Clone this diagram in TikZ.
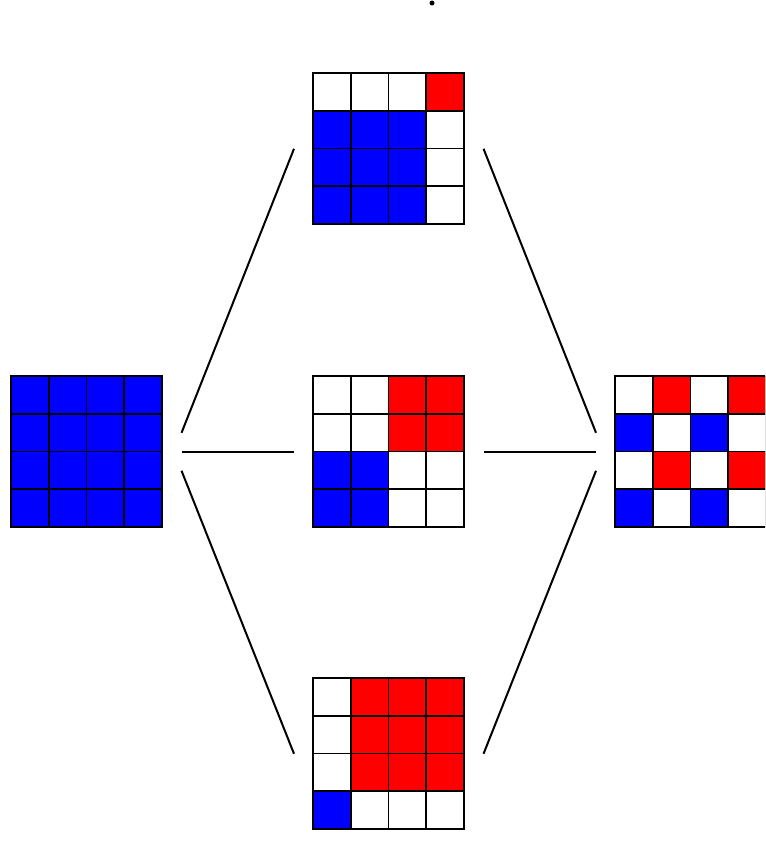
\documentclass[tikz,border=0pt]{standalone}
\usepackage{tikz}
\definecolor{sqblue}{HTML}{0000FF}
\definecolor{sqred}{HTML}{FF0000}
\definecolor{sqwhite}{HTML}{FFFFFF}
% one 4x4 board: name, left, top, 16 colours row by row
\newcommand{\board}[4]{%
  \node[inner sep=0pt,minimum size=113.25pt,anchor=north west] (#1) at (#2,#3) {};
  \foreach \c [count=\i from 0] in {#4}{%
    \pgfmathtruncatemacro\cx{mod(\i,4)}\pgfmathtruncatemacro\cy{\i/4}%
    \filldraw[fill=\c,draw=black,line width=1.3pt]({#2+\cx*37.75},{#3+\cy*37.75})rectangle++(37.75,37.75);}
}

\begin{document}
\begin{tikzpicture}[x=0.75pt,y=-0.75pt,link/.style={black,line width=1.5pt}]
  \clip(0,0)rectangle(765,842);
  \fill[black](432,3)circle(2.5);
  \board{L}{11}{376}{sqblue,sqblue,sqblue,sqblue,sqblue,sqblue,sqblue,sqblue,sqblue,sqblue,sqblue,sqblue,sqblue,sqblue,sqblue,sqblue}
  \board{T}{313}{73}{sqwhite,sqwhite,sqwhite,sqred,sqblue,sqblue,sqblue,sqwhite,sqblue,sqblue,sqblue,sqwhite,sqblue,sqblue,sqblue,sqwhite}
  \board{M}{313}{376}{sqwhite,sqwhite,sqred,sqred,sqwhite,sqwhite,sqred,sqred,sqblue,sqblue,sqwhite,sqwhite,sqblue,sqblue,sqwhite,sqwhite}
  \board{B}{313}{678}{sqwhite,sqred,sqred,sqred,sqwhite,sqred,sqred,sqred,sqwhite,sqred,sqred,sqred,sqblue,sqwhite,sqwhite,sqwhite}
  \board{R}{615}{376}{sqwhite,sqred,sqwhite,sqred,sqblue,sqwhite,sqblue,sqwhite,sqwhite,sqred,sqwhite,sqred,sqblue,sqwhite,sqblue,sqwhite}
  % links left -> middle column -> right
  \draw[link]([shift={(19,-19)}]L.east)--([shift={(-19,0)}]T.west);
  \draw[link]([shift={(19,0)}]L.east)--([shift={(-19,0)}]M.west);
  \draw[link]([shift={(19,19)}]L.east)--([shift={(-19,0)}]B.west);
  \draw[link]([shift={(19,0)}]T.east)--([shift={(-19,-19)}]R.west);
  \draw[link]([shift={(19,0)}]M.east)--([shift={(-19,0)}]R.west);
  \draw[link]([shift={(19,0)}]B.east)--([shift={(-19,19)}]R.west);
\end{tikzpicture}
\end{document}
